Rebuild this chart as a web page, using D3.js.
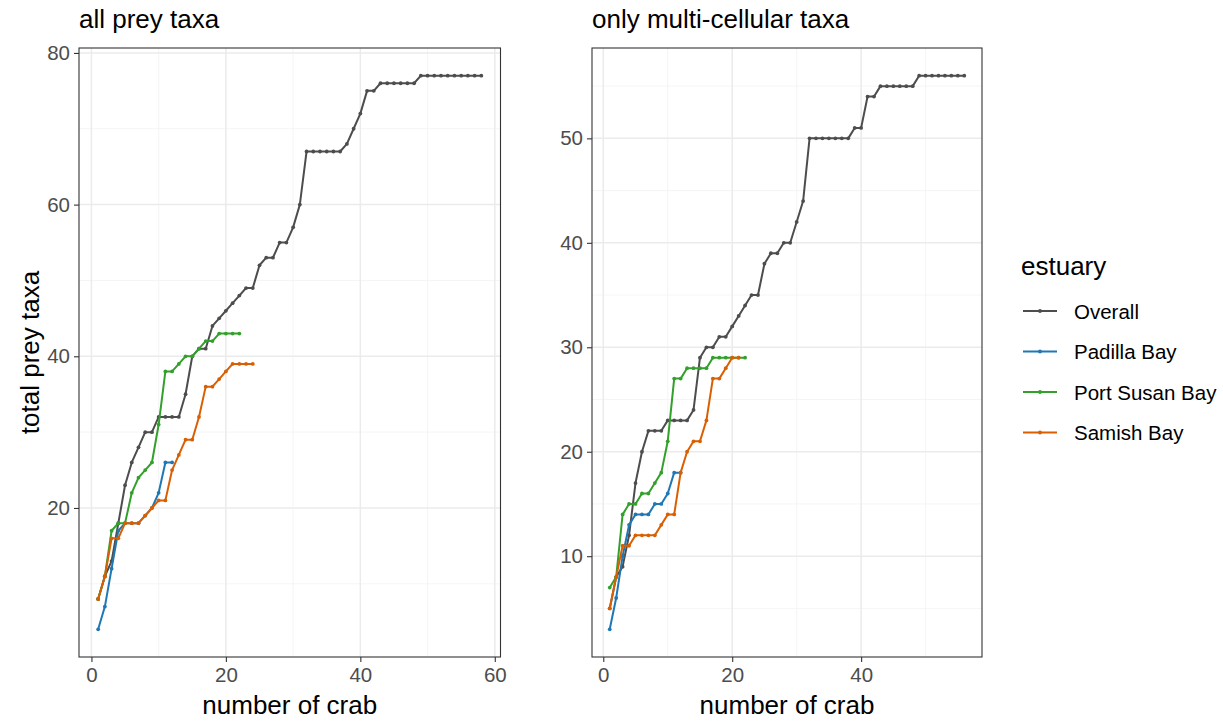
<!DOCTYPE html>
<html>
<head>
<meta charset="utf-8">
<script src="https://cdn.jsdelivr.net/npm/d3@7"></script>
<style>
  html, body { margin: 0; padding: 0; background: #ffffff; }
  svg { display: block; font-family: "Liberation Sans", Arial, sans-serif; }
</style>
</head>
<body>
<svg id="chart" width="1223" height="721"></svg>
<script>
// Cumulative number of prey taxa found as more crabs are examined
const estuaries = ["Overall", "Padilla Bay", "Port Susan Bay", "Samish Bay"];
const estuaryColors = ["#4d4d4d", "#1f78b4", "#33a02c", "#d95f02"];

// all prey taxa, cumulative counts (index 0 = crab 1)
const allOverall = [8, 11, 13, 18, 23, 26, 28, 30, 30, 32, 32, 32, 32, 35, 40, 41, 41, 44, 45, 46,
  47, 48, 49, 49, 52, 53, 53, 55, 55, 57, 60, 67, 67, 67, 67, 67, 67, 68, 70, 72,
  75, 75, 76, 76, 76, 76, 76, 76, 77, 77, 77, 77, 77, 77, 77, 77, 77, 77];
const allPadilla = [4, 7, 12, 17, 18, 18, 18, 19, 20, 22, 26, 26];
const allPortSusan = [8, 11, 17, 18, 18, 22, 24, 25, 26, 31, 38, 38, 39, 40, 40, 41, 42, 42, 43, 43, 43, 43];
const allSamish = [8, 11, 16, 16, 18, 18, 18, 19, 20, 21, 21, 25, 27, 29, 29, 32, 36, 36, 37, 38, 39, 39, 39, 39];

// only multi-cellular taxa, cumulative counts
const multiOverall = [5, 8, 9, 12, 17, 20, 22, 22, 22, 23, 23, 23, 23, 24, 29, 30, 30, 31, 31, 32,
  33, 34, 35, 35, 38, 39, 39, 40, 40, 42, 44, 50, 50, 50, 50, 50, 50, 50, 51, 51,
  54, 54, 55, 55, 55, 55, 55, 55, 56, 56, 56, 56, 56, 56, 56, 56];
const multiPadilla = [3, 6, 10, 13, 14, 14, 14, 15, 15, 16, 18, 18];
const multiPortSusan = [7, 8, 14, 15, 15, 16, 16, 17, 18, 21, 27, 27, 28, 28, 28, 28, 29, 29, 29, 29, 29, 29];
const multiSamish = [5, 8, 11, 11, 12, 12, 12, 12, 13, 14, 14, 18, 20, 21, 21, 23, 27, 27, 28, 29, 29];

// axis ticks
const leftXTicks = [0, 20, 40, 60];
const leftYTicks = [20, 40, 60, 80];
const rightXTicks = [0, 20, 40];
const rightYTicks = [10, 20, 30, 40, 50];

const panelTitles = ["all prey taxa", "only multi-cellular taxa"];
const xTitle = "number of crab";
const yTitle = "total prey taxa";
const legendTitle = "estuary";

const TITLE_SIZE = "26px";
const TEXT_SIZE = "20.5px";

const svg = d3.select("#chart");

const panels = [
  { title: panelTitles[0], x0: 79, x1: 500.5, y0: 48, y1: 657,
    series: [allOverall, allPadilla, allPortSusan, allSamish],
    xTicks: leftXTicks, yTicks: leftYTicks },
  { title: panelTitles[1], x0: 592, x1: 982, y0: 48, y1: 657,
    series: [multiOverall, multiPadilla, multiPortSusan, multiSamish],
    xTicks: rightXTicks, yTicks: rightYTicks }
];

// ggplot-style 5% expansion of the data range
function expand(lo, hi) {
  const pad = (hi - lo) * 0.05;
  return [lo - pad, hi + pad];
}

function midpoints(ticks, domain) {
  const step = ticks[1] - ticks[0];
  const out = [];
  for (let v = ticks[0] - step / 2; v <= domain[1]; v += step) {
    if (v >= domain[0]) out.push(v);
  }
  return out;
}

panels.forEach(p => {
  const all = p.series.flat();
  const maxN = d3.max(p.series, s => s.length);
  const xDom = expand(1, maxN);
  const yDom = expand(d3.min(all), d3.max(all));
  const x = d3.scaleLinear().domain(xDom).range([p.x0, p.x1]);
  const y = d3.scaleLinear().domain(yDom).range([p.y1, p.y0]);

  const g = svg.append("g");

  // minor grid
  const xMinor = midpoints(p.xTicks, xDom);
  const yMinor = midpoints(p.yTicks, yDom);
  g.selectAll(".xminor").data(xMinor).join("line")
    .attr("x1", d => x(d)).attr("x2", d => x(d))
    .attr("y1", p.y0).attr("y2", p.y1)
    .attr("stroke", "#f2f2f2").attr("stroke-width", 0.8);
  g.selectAll(".yminor").data(yMinor).join("line")
    .attr("x1", p.x0).attr("x2", p.x1)
    .attr("y1", d => y(d)).attr("y2", d => y(d))
    .attr("stroke", "#f2f2f2").attr("stroke-width", 0.8);

  // major grid
  g.selectAll(".xmajor").data(p.xTicks).join("line")
    .attr("x1", d => x(d)).attr("x2", d => x(d))
    .attr("y1", p.y0).attr("y2", p.y1)
    .attr("stroke", "#ebebeb").attr("stroke-width", 1.5);
  g.selectAll(".ymajor").data(p.yTicks).join("line")
    .attr("x1", p.x0).attr("x2", p.x1)
    .attr("y1", d => y(d)).attr("y2", d => y(d))
    .attr("stroke", "#ebebeb").attr("stroke-width", 1.5);

  // series lines and points
  const line = d3.line().x((d, i) => x(i + 1)).y(d => y(d));
  p.series.forEach((s, k) => {
    g.append("path").datum(s)
      .attr("d", line)
      .attr("fill", "none")
      .attr("stroke", estuaryColors[k])
      .attr("stroke-width", 2)
      .attr("stroke-linejoin", "round");
    g.selectAll(null).data(s).join("circle")
      .attr("cx", (d, i) => x(i + 1))
      .attr("cy", d => y(d))
      .attr("r", 1.9)
      .attr("fill", estuaryColors[k]);
  });

  // panel border
  g.append("rect")
    .attr("x", p.x0).attr("y", p.y0)
    .attr("width", p.x1 - p.x0).attr("height", p.y1 - p.y0)
    .attr("fill", "none").attr("stroke", "#333333").attr("stroke-width", 1.1);

  // axes
  const xAxis = g.append("g").attr("transform", `translate(0,${p.y1})`)
    .call(d3.axisBottom(x).tickValues(p.xTicks).tickSize(5).tickPadding(5));
  const yAxis = g.append("g").attr("transform", `translate(${p.x0},0)`)
    .call(d3.axisLeft(y).tickValues(p.yTicks).tickSize(5).tickPadding(4));
  [xAxis, yAxis].forEach(a => {
    a.select(".domain").remove();
    a.selectAll(".tick line").attr("stroke", "#333333").attr("stroke-width", 1.1);
    a.selectAll(".tick text")
      .attr("fill", "#4d4d4d")
      .style("font-size", TEXT_SIZE)
      .style("font-family", "'Liberation Sans', Arial, sans-serif");
  });

  // panel title
  svg.append("text")
    .attr("x", p.x0).attr("y", 28)
    .attr("fill", "#000").style("font-size", TITLE_SIZE)
    .text(p.title);

  // x axis title
  svg.append("text")
    .attr("x", (p.x0 + p.x1) / 2).attr("y", 714)
    .attr("text-anchor", "middle")
    .attr("fill", "#000").style("font-size", TITLE_SIZE)
    .text(xTitle);
});

// y axis title
svg.append("text")
  .attr("transform", `translate(39,${(48 + 657) / 2}) rotate(-90)`)
  .attr("text-anchor", "middle")
  .attr("fill", "#000").style("font-size", TITLE_SIZE)
  .text(yTitle);

// legend
const legend = svg.append("g").attr("transform", "translate(1021,0)");
legend.append("text")
  .attr("x", 0).attr("y", 275)
  .attr("fill", "#000").style("font-size", TITLE_SIZE)
  .text(legendTitle);
estuaries.forEach((name, k) => {
  const cy = 311 + k * 40.5;
  legend.append("line")
    .attr("x1", 2).attr("x2", 36).attr("y1", cy).attr("y2", cy)
    .attr("stroke", estuaryColors[k]).attr("stroke-width", 2);
  legend.append("circle")
    .attr("cx", 19).attr("cy", cy).attr("r", 1.9)
    .attr("fill", estuaryColors[k]);
  legend.append("text")
    .attr("x", 53).attr("y", cy + 7.5)
    .attr("fill", "#000").style("font-size", TEXT_SIZE)
    .text(name);
});
</script>
</body>
</html>
